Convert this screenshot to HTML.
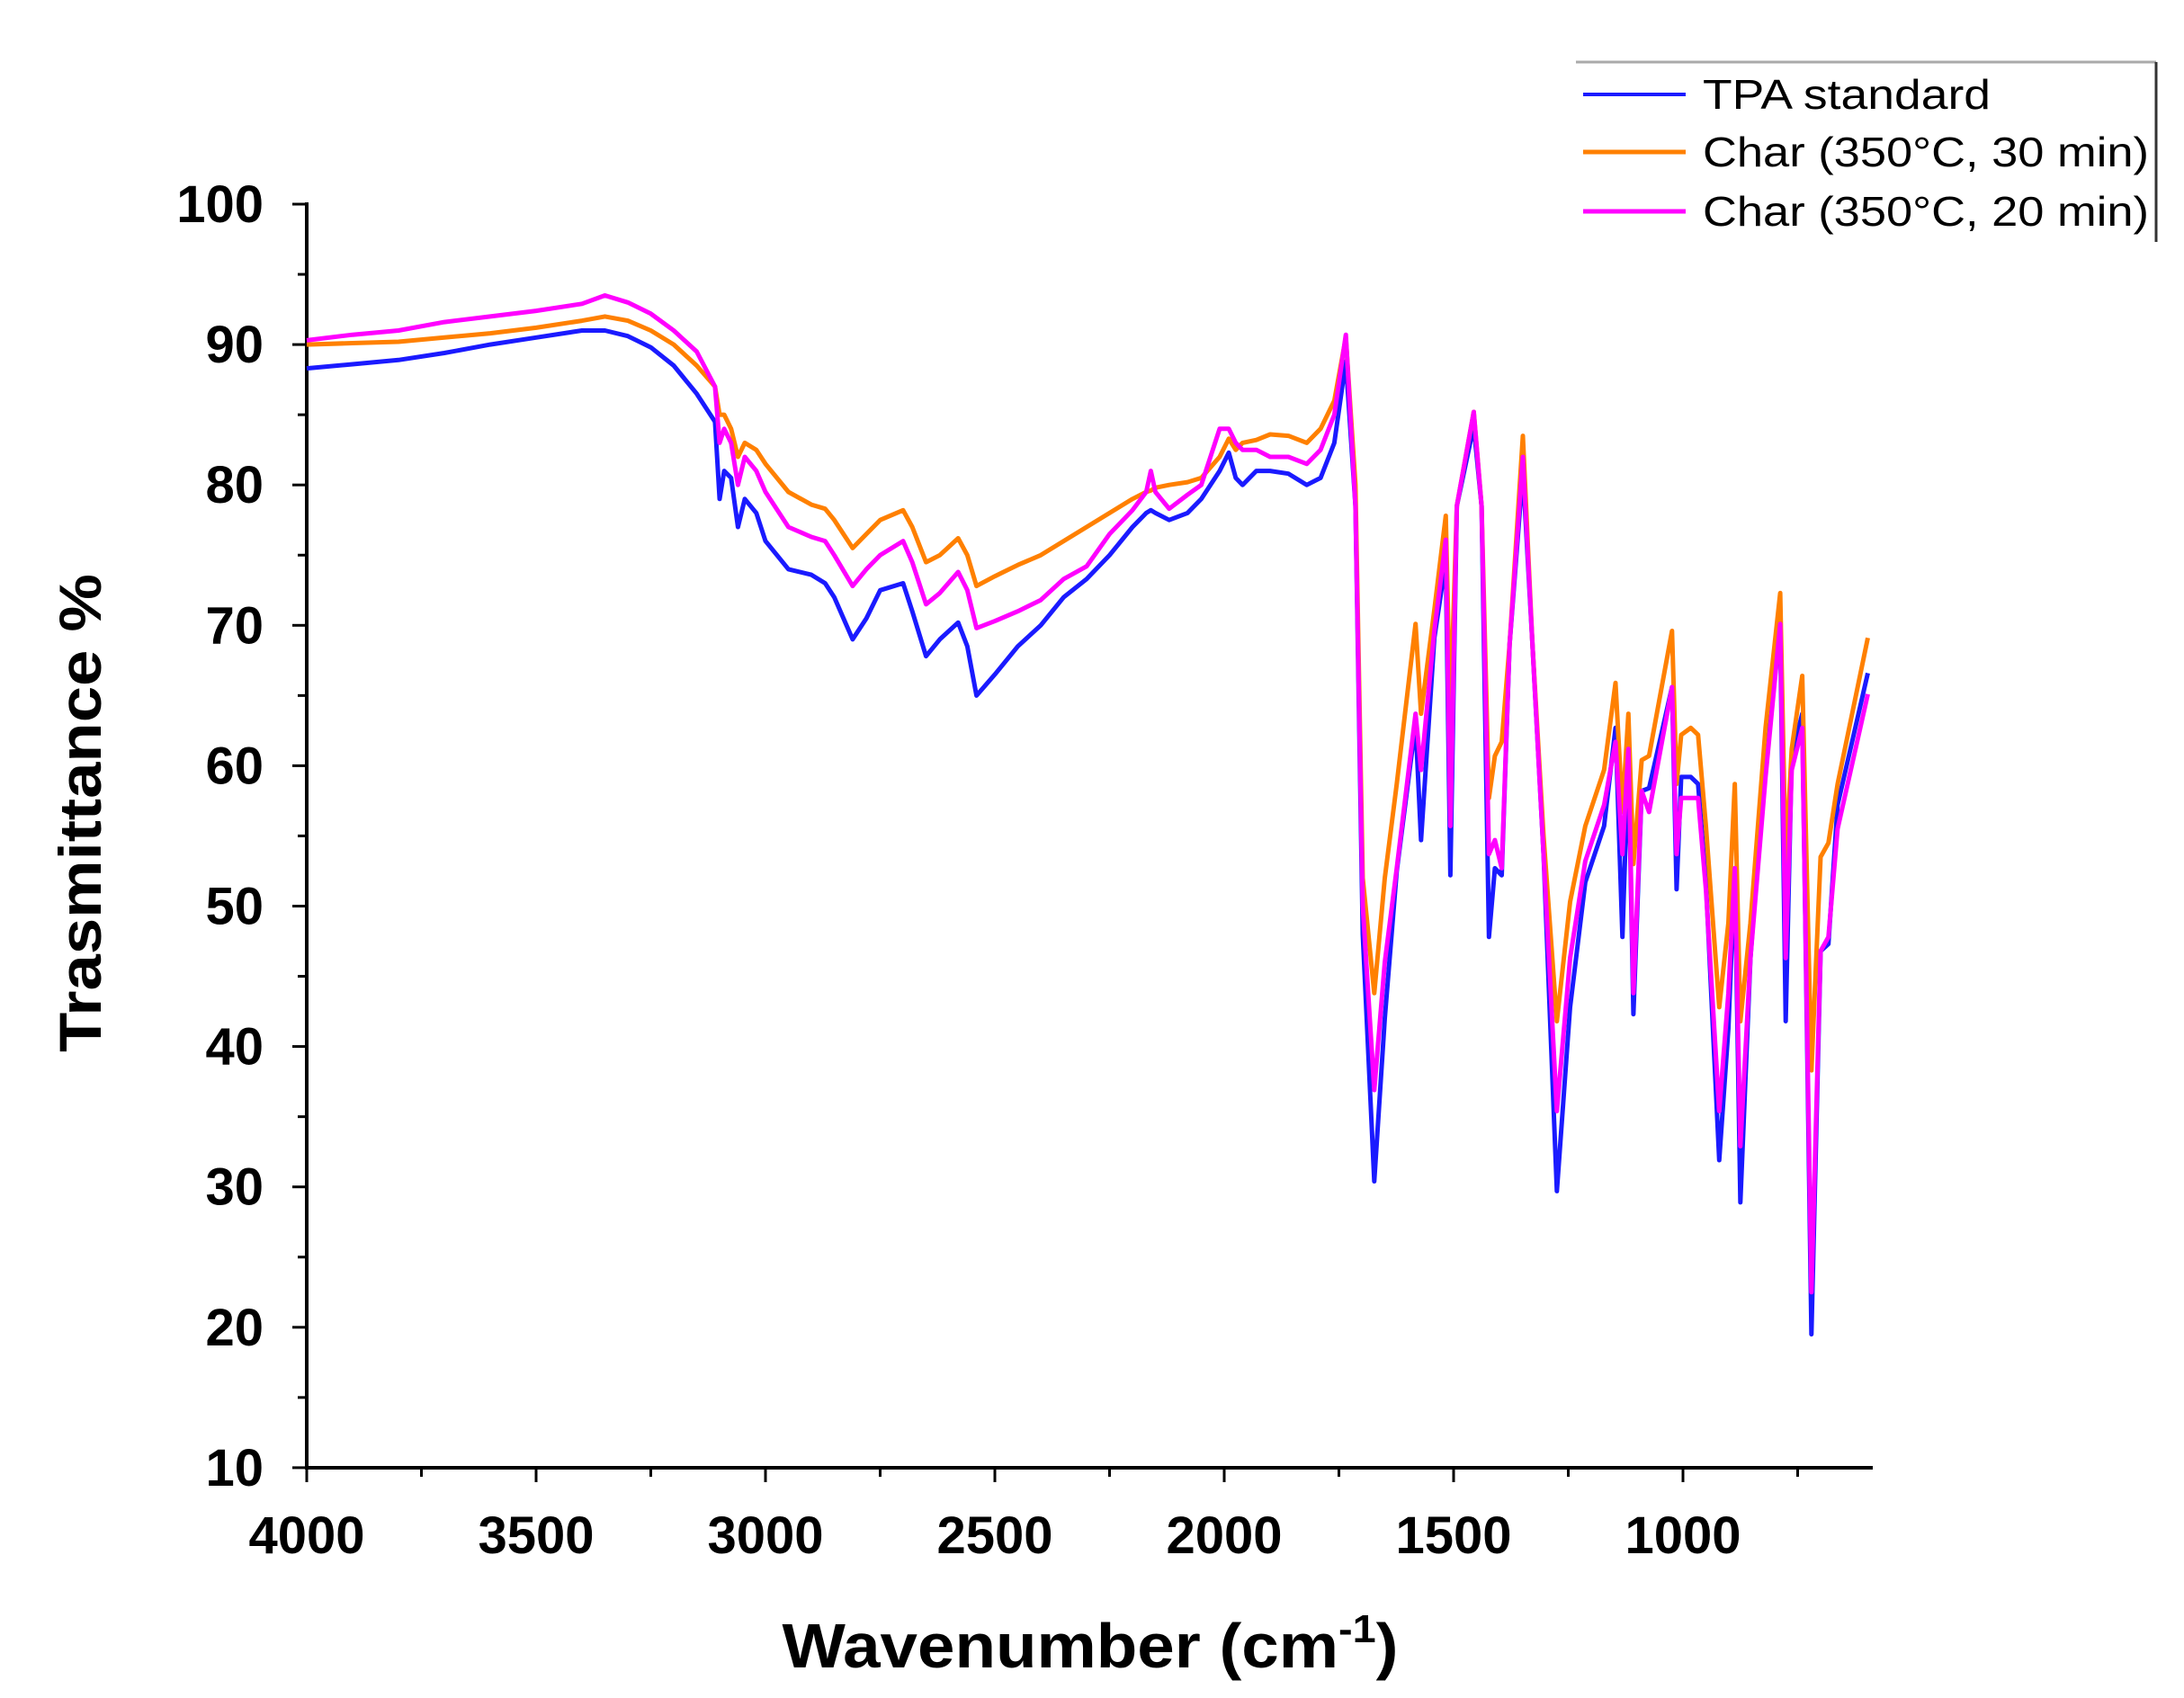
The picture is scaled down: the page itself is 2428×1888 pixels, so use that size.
<!DOCTYPE html>
<html><head><meta charset="utf-8"><style>
html,body{margin:0;padding:0;background:#fff;}
svg{display:block;}
text{font-family:"Liberation Sans",Arial,sans-serif;}
</style></head><body>
<svg id="chart" width="2428" height="1888" viewBox="0 0 2428 1888" xmlns="http://www.w3.org/2000/svg">
<g id="grid-axes"></g>
<g id="series"></g>
<text x="1212" y="1854" text-anchor="middle" font-size="70" font-weight="bold" textLength="685" lengthAdjust="spacingAndGlyphs">Wavenumber (cm<tspan dy="-28" font-size="44">-1</tspan><tspan dy="28">)</tspan></text>
<text transform="translate(112,904) rotate(-90)" text-anchor="middle" font-size="66" font-weight="bold" textLength="532" lengthAdjust="spacingAndGlyphs">Trasmittance %</text>
<g>
<line x1="1752" y1="69" x2="2397" y2="69" stroke="#aaaaaa" stroke-width="3"/>
<line x1="2397" y1="69" x2="2397" y2="269" stroke="#333" stroke-width="3"/>
<g><line x1="1760" y1="105" x2="1874" y2="105" stroke="#1a1aff" stroke-width="4"/><text x="1893" y="121" font-size="46" textLength="320" lengthAdjust="spacingAndGlyphs">TPA standard</text></g>
<g><line x1="1760" y1="169" x2="1874" y2="169" stroke="#ff8000" stroke-width="5"/><text x="1893" y="185" font-size="46" textLength="496" lengthAdjust="spacingAndGlyphs">Char (350°C, 30 min)</text></g>
<g><line x1="1760" y1="235" x2="1874" y2="235" stroke="#ff00ff" stroke-width="5"/><text x="1893" y="251" font-size="46" textLength="496" lengthAdjust="spacingAndGlyphs">Char (350°C, 20 min)</text></g>
</g>
</svg>
<script>
const wavenumbers=[4000,3900,3800,3700,3600,3500,3400,3350,3300,3250,3200,3150,3110,3100,3090,3075,3060,3045,3020,3000,2950,2900,2870,2850,2810,2780,2750,2700,2680,2650,2620,2580,2560,2540,2500,2450,2400,2350,2300,2250,2200,2170,2160,2150,2120,2080,2050,2010,1990,1975,1960,1930,1900,1860,1820,1790,1760,1735,1714,1698,1673,1650,1624,1583,1571,1542,1517,1507,1493,1456,1439,1423,1410,1395,1378,1349,1328,1304,1275,1246,1213,1172,1147,1132,1119,1108,1090,1074,1024,1014,1004,983,967,950,921,901,887,875,853,820,788,776,763,740,720,700,683,663,597];
const tpaValues=[88.3,88.6,88.9,89.4,90.0,90.5,91.0,91.0,90.6,89.8,88.5,86.5,84.5,79,81,80.5,77,79,78,76,74,73.6,73,72,69,70.5,72.5,73,71,67.8,69,70.2,68.5,65,66.5,68.5,70,72,73.3,75,77,78,78.2,78,77.5,78,79,81,82.3,80.5,80,81,81,80.8,80,80.5,83,88.8,78.5,48,30.4,42,52.5,63,54.7,69.1,74.6,52.2,78.5,84.2,78.5,47.8,52.7,52.2,68.6,81.0,68.6,53.7,29.7,42.8,51.7,55.7,62.7,47.8,60.7,42.3,58.2,58.4,65.6,51.2,59.2,59.2,58.7,51.7,31.9,41.3,52.7,28.9,46.3,60.7,69.6,41.8,60.7,63.7,19.5,46.8,47.3,57.2,66.6];
const char30Values=[90.0,90.1,90.2,90.5,90.8,91.2,91.7,92.0,91.7,91.0,90.0,88.5,87,85,85,84,82,83,82.5,81.5,79.5,78.6,78.3,77.5,75.5,76.5,77.5,78.2,77,74.5,75,76.2,75,72.8,73.5,74.3,75,76,77,78,79,79.5,79.6,79.8,80,80.2,80.5,82,83.3,82.5,83,83.2,83.6,83.5,83,84,86,90.5,80,52,43.8,52,58.7,70.1,63.7,71.1,77.8,63.7,78.5,85.2,78.5,57.7,60.7,61.7,68.6,83.5,68.6,55,41.8,50.3,55.7,59.7,65.9,56.7,63.7,53,60.4,60.7,69.6,58.7,62.2,62.7,62.2,55.7,42.8,48.8,58.7,41.8,48.8,62.7,72.3,53,61.2,66.4,38.3,53.5,54.5,58.7,69.1];
const char20Values=[90.3,90.7,91.0,91.6,92.0,92.4,92.9,93.5,93.0,92.2,91.0,89.5,87,83,84,83,80,82,81,79.5,77,76.3,76,75,72.8,74,75,76,74.5,71.5,72.3,73.8,72.5,69.8,70.3,71,71.8,73.3,74.2,76.5,78.2,79.5,81,79.5,78.3,79.3,80,84,84,83,82.5,82.5,82,82,81.5,82.5,85,90.7,78.5,50,36.9,46,52.7,63.7,59.7,69.6,76.1,55.7,78.5,85.2,78.5,53.7,54.7,52.7,68.6,82.0,68.6,53.7,35.4,46.3,53.2,57.2,61.7,53.7,61.2,43.8,58.2,56.7,65.6,53.7,57.7,57.7,57.7,51.2,35.4,43.8,52.7,32.9,46.3,59.2,70.1,46.3,59.7,62.7,22.5,46.8,47.8,55.5,65.1];
const xTickLabels=[4000,3500,3000,2500,2000,1500,1000];
const yTickLabels=[10,20,30,40,50,60,70,80,90,100];

const NS="http://www.w3.org/2000/svg";
const X0=341, PXW=0.510, XEND=2082, Y100=227, PXV=15.61, YBOT=1632;
function xs(w){return X0+(4000-w)*PXW;}
function ys(v){return Y100+(100-v)*PXV;}
function mk(tag,attrs,parent){const e=document.createElementNS(NS,tag);for(const k in attrs)e.setAttribute(k,attrs[k]);parent.appendChild(e);return e;}
const ax=document.getElementById('grid-axes');
let l=mk('line',{x1:X0,y1:Y100-2,x2:X0,y2:YBOT+2,stroke:'#000','stroke-width':4},ax);


l=mk('line',{x1:X0-2,y1:YBOT,x2:XEND,y2:YBOT,stroke:'#000','stroke-width':4},ax);


for(let w=4000;w>=600;w-=250){
  const major=(w%500===0);
  const t=mk('line',{x1:xs(w),y1:YBOT,x2:xs(w),y2:YBOT+(major?16:10),stroke:'#000','stroke-width':3},ax);
  
  
}
xTickLabels.forEach(w=>{
  const t=mk('text',{x:xs(w),y:1727,'text-anchor':'middle','font-size':58,'font-weight':'bold'},ax);
  t.textContent=w;
  
  
});
for(let v=10;v<=100;v+=5){
  const major=(v%10===0);
  const t=mk('line',{x1:X0,y1:ys(v),x2:X0-(major?16:10),y2:ys(v),stroke:'#000','stroke-width':3},ax);
  
  
}
yTickLabels.forEach(v=>{
  const t=mk('text',{x:293,y:ys(v)+20,'text-anchor':'end','font-size':58,'font-weight':'bold'},ax);
  t.textContent=v;
  
  
});
const sg=document.getElementById('series');
function drawSeries(vals,color,name){
  const d=vals.map((v,i)=>(i?'L':'M')+xs(wavenumbers[i]).toFixed(1)+' '+ys(v).toFixed(1)).join(' ');
  const p=mk('path',{d:d,fill:'none',stroke:color,'stroke-width':5,'stroke-linejoin':'round'},sg);
  
  
}
drawSeries(tpaValues,'#1a1aff','series-tpa-standard');
drawSeries(char30Values,'#ff8000','series-char-30min');
drawSeries(char20Values,'#ff00ff','series-char-20min');
</script>
</body></html>
